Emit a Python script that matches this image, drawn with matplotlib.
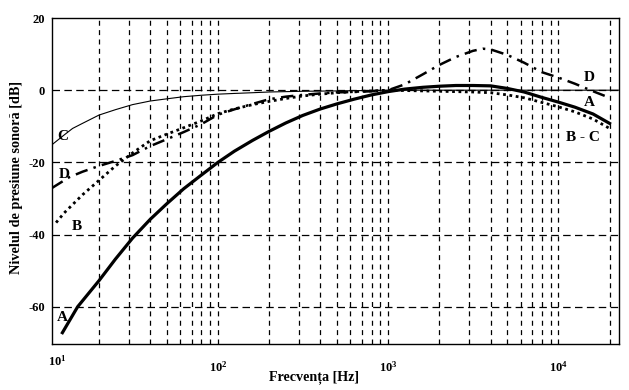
import numpy as np
import matplotlib
matplotlib.use("Agg")
import matplotlib.pyplot as plt
from matplotlib.ticker import FixedLocator, NullFormatter

plt.rcParams['font.family'] = ['Liberation Serif', 'DejaVu Serif']
plt.rcParams['font.weight'] = 'bold'

# curve A (thick solid)
f_a = [12.2, 15, 20, 25, 31.5, 40, 50, 63, 80, 100, 125, 160, 200, 250, 315, 400, 500,
       630, 800, 1000, 1250, 1600, 2000, 2500, 3150, 4000, 5000, 6300, 8000, 10000,
       12500, 16000, 20000]
db_a = [-67.2, -60.0, -52.8, -46.8, -41.0, -35.8, -31.5, -27.3, -23.5, -20.0, -16.9, -13.9,
        -11.4, -9.1, -7.0, -5.2, -3.8, -2.5, -1.3, -0.4, 0.3, 0.8, 1.1, 1.3, 1.3, 1.2, 0.5,
        -0.5, -2.0, -3.3, -4.7, -6.6, -9.2]

# curve B (dotted), joins C at high frequencies
f_b = [11.2, 12.5, 16, 20, 25, 31.5, 40, 50, 63, 80, 100, 125, 160, 200, 250, 315, 400,
       500, 630, 800, 1000, 1250, 1600, 2000, 2500, 3150, 4000, 5000, 6300, 8000, 10000,
       12500, 16000, 20000]
db_b = [-36.7, -34.0, -29.0, -25.0, -21.0, -17.4, -14.0, -12.2, -10.4, -8.5, -6.5, -5.2,
        -4.0, -3.1, -2.3, -1.6, -1.1, -0.7, -0.4, -0.2, 0.0, -0.1, -0.2, -0.3, -0.4, -0.5,
        -0.7, -1.3, -2.1, -3.4, -4.6, -6.0, -8.0, -10.6]

# curve C (thin solid)
f_c = [10.6, 12.5, 14, 16, 20, 25, 31.5, 40, 50, 63, 80, 100, 125, 160, 200, 315, 500,
       1000, 2000, 5000, 10000, 23000]
db_c = [-15.1, -12.4, -10.6, -9.2, -6.9, -5.4, -4.0, -3.0, -2.4, -1.8, -1.4, -1.1, -0.9,
        -0.7, -0.5, -0.3, -0.2, 0.0, 0.0, 0.0, 0.0, 0.0]

# curve D (dash-dot)
f_d = [10.6, 13.4, 16, 20, 25, 31.5, 40, 50, 63, 80, 100, 125, 160, 200, 250, 315, 400,
       500, 630, 800, 1000, 1250, 1600, 2000, 2500, 3150, 3600, 4000, 5000, 6300, 8000,
       10000, 12500, 16000, 20000]
db_d = [-27.1, -24.1, -22.6, -21.0, -19.6, -18.0, -15.5, -13.6, -11.6, -9.4, -6.8, -5.3,
        -3.8, -2.5, -1.8, -1.3, -0.9, -0.6, -0.5, -0.3, 0.0, 1.6, 4.4, 7.0, 9.2, 10.9, 11.5,
        11.3, 9.8, 7.6, 5.0, 3.5, 1.8, -0.3, -2.1]

fig = plt.figure(figsize=(6.29, 3.90), dpi=100)
ax = fig.add_axes([0.0827, 0.1192, 0.9013, 0.8346])

ax.plot(f_c, db_c, color='black', lw=0.8)
ax.plot(f_b, db_b, color='black', lw=2.0, linestyle=(0, (1.0, 1.3)))
ax.plot(f_d, db_d, color='black', lw=1.8, linestyle=(0, (5, 2.5, 1, 2.5)))
ax.plot(f_a, db_a, color='black', lw=2.3)

ax.set_xscale('log')
ax.set_xlim(10.6, 22700)
ax.set_ylim(-70.2, 20)

ax.xaxis.set_major_locator(FixedLocator([100, 1000, 10000]))
minor = [m * 10 ** k for k in range(1, 4) for m in range(2, 10)] + [20000]
ax.xaxis.set_minor_locator(FixedLocator(minor))
ax.xaxis.set_minor_formatter(NullFormatter())
ax.set_xticklabels([r'$\mathregular{10^{2}}$', r'$\mathregular{10^{3}}$',
                    r'$\mathregular{10^{4}}$'])
ax.set_yticks([-60, -40, -20, 0, 20])
ax.set_yticklabels(['-60', '-40', '-20', '0', '20'])
ax.tick_params(which='both', length=0)
ax.tick_params(axis='x', pad=12, labelsize=9)
ax.tick_params(axis='y', pad=5, labelsize=9)
# 10^1 sits just left of the axis start
fig.text(57 / 629, 1 - 361 / 390, r'$\mathregular{10^{1}}$', fontsize=9,
         fontweight='bold', ha='center', va='center')

for x in [100, 1000, 10000] + minor:
    ax.axvline(x, color='black', lw=0.9, linestyle=(0, (4, 3.5)), zorder=0)
for y in [-60, -40, -20, 0]:
    ax.axhline(y, color='black', lw=0.9, linestyle=(0, (6, 3.5)), zorder=0)

for s in ax.spines.values():
    s.set_linewidth(1.0)

fig.text(314 / 629, 1 - 377 / 390, 'Frecvența [Hz]', fontsize=10.2, fontweight='bold',
         ha='center', va='center')
fig.text(16.5 / 629, 1 - 177.5 / 390, 'Nivelul de presiune sonoră [dB]', fontsize=10.3,
         fontweight='bold', ha='center', va='center', rotation=90)

ax.text(12.2, -12.8, 'C', fontsize=11, fontweight='bold', ha='center', va='center')
ax.text(12.5, -23.5, 'D', fontsize=11, fontweight='bold', ha='center', va='center')
ax.text(14.9, -37.8, 'B', fontsize=11, fontweight='bold', ha='center', va='center')
ax.text(12.2, -63.0, 'A', fontsize=11, fontweight='bold', ha='center', va='center')
ax.text(15200, 3.6, 'D', fontsize=11, fontweight='bold', ha='center', va='center')
ax.text(15200, -3.3, 'A', fontsize=11, fontweight='bold', ha='center', va='center')
ax.text(14000, -13.2, 'B - C', fontsize=11, fontweight='bold', ha='center', va='center')

fig.savefig('out.png', dpi=100)
